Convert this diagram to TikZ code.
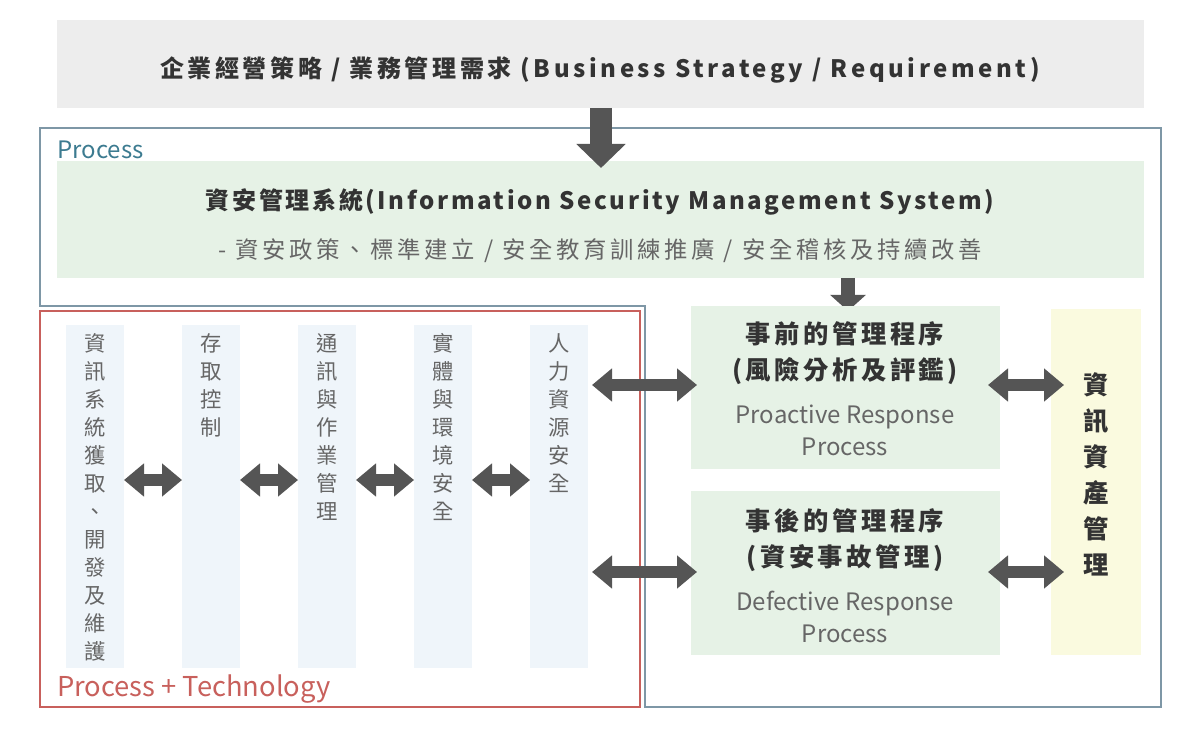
\documentclass[tikz,border=0pt]{standalone}
\usepackage{fontspec}
\setmainfont{Noto Sans CJK TC}
\usetikzlibrary{arrows.meta}
\definecolor{dk}{HTML}{333333}
\definecolor{ar}{HTML}{555555}
\definecolor{gr}{HTML}{E6F2E6}
\definecolor{col}{HTML}{EFF5FA}
\definecolor{yl}{HTML}{FAFADF}
\definecolor{bl}{HTML}{7E97A6}
\definecolor{tl}{HTML}{3C7B90}
\definecolor{rd}{HTML}{C8605C}
\definecolor{tx}{HTML}{666666}
\begin{document}
\begin{tikzpicture}[x=0.75pt,y=-0.75pt,
  dbl/.style={ar,line width=9pt,{Triangle[length=15pt,width=24pt]}-{Triangle[length=15pt,width=24pt]}},
  down/.style={ar,line width=16pt,-{Triangle[length=18pt,width=36pt]}},
  vtxt/.style={anchor=north,align=center,text=tx,font=\fontsize{16}{21}\selectfont,inner sep=0pt},
  btitle/.style={text=dk,font=\fontsize{18}{20}\bfseries\selectfont\addfontfeatures{LetterSpace=15}},
  bhead/.style={align=center,text=dk,font=\fontsize{19}{27}\bfseries\selectfont\addfontfeatures{LetterSpace=14}}]
\useasboundingbox (0,0) rectangle (1201,730);
\fill[white] (0,0) rectangle (1201,730);
% top
\fill[black!7] (57,20) rectangle (1144,108);
\node[btitle] (top) at (600,70) {企業經營策略 / 業務管理需求 (Business Strategy / Requirement)};
% frames
\draw[bl,line width=0.9pt] (40,128)--(1161,128)--(1161,707)--(645,707)--(645,306)--(40,306)--cycle;
\draw[rd,line width=0.9pt] (40,311) rectangle (640,707);
\node[anchor=west,text=tl,font=\fontsize{18}{20}\selectfont,inner sep=0pt] (plab) at (57,150) {Process};
\node[anchor=west,text=rd,font=\fontsize{20.5}{20}\selectfont,inner sep=0pt] (ptlab) at (57,689) {Process + Technology};
% ISMS
\fill[gr] (57,161) rectangle (1144,278);
\node[btitle,font=\fontsize{18}{20}\bfseries\selectfont\addfontfeatures{LetterSpace=11}] (isms) at (600,202) {資安管理系統(Information Security Management System)};
\node[text=tx,font=\fontsize{17.5}{20}\selectfont\addfontfeatures{LetterSpace=16}] (isms2) at (600,251) {- 資安政策、標準建立 / 安全教育訓練推廣 / 安全稽核及持續改善};
\coordinate (a1) at (601,108); \coordinate (a2) at (601,168);
\draw[down] (a1)--(a2);
\coordinate (b1) at (848,278); \coordinate (b2) at (848,311);
\draw[ar,line width=10pt,-{Triangle[length=12pt,width=26pt]}] (b1)--(b2);
% columns
\foreach \x/\t [count=\i] in {66/{資\\訊\\系\\統\\獲\\取\\、\\開\\發\\及\\維\\護},182/{存\\取\\控\\制},298/{通\\訊\\與\\作\\業\\管\\理},414/{實\\體\\與\\環\\境\\安\\全},530/{人\\力\\資\\源\\安\\全}}{
  \fill[col] (\x,325) rectangle (\x+58,668);
  \node[vtxt] (c\i) at (\x+29,333) {\t};
}
\foreach \a/\b in {124/182,240/298,356/414,472/530}{
  \draw[dbl] (\a,480)--(\b,480);
}
% right boxes
\fill[gr] (691,306) rectangle (1000,469);
\fill[gr] (691,491) rectangle (1000,655);
\node[bhead] (pre) at (845,353) {事前的管理程序\\(風險分析及評鑑)};
\node[align=center,text=tx,font=\fontsize{18}{24}\selectfont] (pre2) at (845,430) {Proactive Response\\Process};
\node[bhead] (post) at (845,540) {事後的管理程序\\(資安事故管理)};
\node[align=center,text=tx,font=\fontsize{18}{24}\selectfont] (post2) at (845,617) {Defective Response\\Process};
\fill[yl] (1051,309) rectangle (1141,655);
\node[align=center,text=dk,font=\fontsize{19}{27}\bfseries\selectfont] (asset) at (1096,474) {資\\訊\\資\\產\\管\\理};
\draw[dbl] (592,385)--(697,385);
\draw[dbl] (592,572)--(697,572);
\draw[dbl] (988,385)--(1064,385);
\draw[dbl] (988,572)--(1064,572);
\end{tikzpicture}
\end{document}
